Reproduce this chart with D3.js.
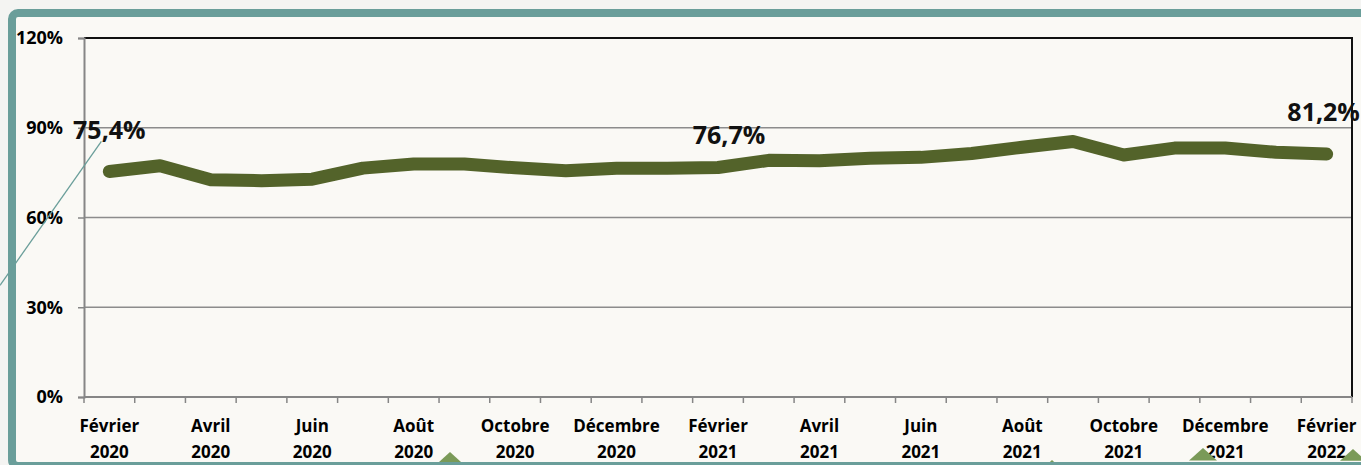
<!DOCTYPE html>
<html>
<head>
<meta charset="utf-8">
<script src="https://cdn.jsdelivr.net/npm/d3@7"></script>
<style>
  html, body { margin: 0; padding: 0; background: #f4f4f2; }
  svg { display: block; font-family: "Open Sans", "Noto Sans", sans-serif; }
</style>
</head>
<body>
<div id="chart"></div>
<script>
// data
var months = ["2020-02", "2020-03", "2020-04", "2020-05", "2020-06", "2020-07", "2020-08",
    "2020-09", "2020-10", "2020-11", "2020-12", "2021-01", "2021-02", "2021-03", "2021-04",
    "2021-05", "2021-06", "2021-07", "2021-08", "2021-09", "2021-10", "2021-11", "2021-12",
    "2022-01", "2022-02"];
var rates = [0.754, 0.773, 0.726, 0.723, 0.728, 0.765, 0.779, 0.779, 0.766, 0.756, 0.765,
    0.765, 0.767, 0.791, 0.790, 0.798, 0.801, 0.814, 0.835, 0.854, 0.809, 0.832, 0.832,
    0.818, 0.812];
var monthNames = ["Février", "Avril", "Juin", "Août", "Octobre", "Décembre", "Février",
    "Avril", "Juin", "Août", "Octobre", "Décembre", "Février"];
var yearNames = ["2020", "2020", "2020", "2020", "2020", "2020", "2021", "2021", "2021",
    "2021", "2021", "2021", "2022"];
var yTicks = [0, 0.3, 0.6, 0.9, 1.2];
var labelled = [0, 12, 24];

var svgWidth = 1361;
var svgHeight = 465;

var plot = { left: 84, right: 1352, top: 38, bottom: 397 };

var svg = d3.select("#chart").append("svg")
    .attr("width", svgWidth)
    .attr("height", svgHeight);

// frame
svg.append("rect")
    .attr("x", 0).attr("y", 0)
    .attr("width", svgWidth).attr("height", svgHeight)
    .attr("fill", "#f4f4f2");
svg.append("rect")
    .attr("x", 12).attr("y", 13)
    .attr("width", svgWidth + 20).attr("height", svgHeight - 13 + 1)
    .attr("rx", 6)
    .attr("fill", "#faf9f5")
    .attr("stroke", "#6a9e9a")
    .attr("stroke-width", 8);

var x = d3.scaleBand()
    .domain(months)
    .range([plot.left, plot.right]);

var y = d3.scaleLinear()
    .domain([0, 1.2])
    .range([plot.bottom, plot.top]);

var frFormat = d3.formatLocale({ decimal: ",", thousands: " ", grouping: [3], currency: ["", " €"] });
var pct0 = frFormat.format(".0%");
var pct1 = frFormat.format(".1%");

// gridlines
svg.append("g")
    .selectAll("line")
    .data(yTicks.slice(1, 4))
    .enter()
    .append("line")
    .attr("x1", plot.left).attr("x2", plot.right)
    .attr("y1", d => y(d)).attr("y2", d => y(d))
    .attr("stroke", "#8c8c8c")
    .attr("stroke-width", 1.5);

// plot border top/right
svg.append("path")
    .attr("d", `M${plot.left},${y(1.2)}H${plot.right}V${plot.bottom}`)
    .attr("fill", "none")
    .attr("stroke", "#111")
    .attr("stroke-width", 2);

// y axis
var leftAxis = d3.axisLeft(y)
    .tickValues(yTicks)
    .tickSize(6)
    .tickPadding(15)
    .tickFormat(pct0);

var yAxis = svg.append("g")
    .attr("transform", `translate(${plot.left}, 0)`)
    .call(leftAxis);
yAxis.select(".domain").attr("stroke", "#868686").attr("stroke-width", 2);
yAxis.selectAll(".tick line").attr("stroke", "#868686").attr("stroke-width", 1.5);
yAxis.selectAll(".tick text")
    .attr("font-family", "Open Sans, sans-serif")
    .attr("font-size", 18)
    .attr("font-weight", 700)
    .attr("fill", "#000");

// x axis line and ticks at category boundaries
svg.append("line")
    .attr("x1", plot.left).attr("x2", plot.right)
    .attr("y1", plot.bottom).attr("y2", plot.bottom)
    .attr("stroke", "#868686")
    .attr("stroke-width", 2);

var bounds = months.map(d => x(d)).concat([x(months[months.length - 1]) + x.bandwidth()]);
svg.append("g")
    .selectAll("line")
    .data(bounds)
    .enter()
    .append("line")
    .attr("x1", d => d).attr("x2", d => d)
    .attr("y1", plot.bottom).attr("y2", plot.bottom + 6)
    .attr("stroke", "#868686")
    .attr("stroke-width", 1.5);

// x labels: every other month, two lines
var xLabels = svg.append("g")
    .selectAll("text")
    .data(monthNames)
    .enter()
    .append("text")
    .attr("text-anchor", "middle")
    .attr("font-size", 17)
    .attr("font-weight", 700)
    .attr("fill", "#000");
xLabels.append("tspan")
    .attr("x", (d, i) => x(months[i * 2]) + x.bandwidth() / 2)
    .attr("y", 432)
    .text(d => d);
xLabels.append("tspan")
    .attr("x", (d, i) => x(months[i * 2]) + x.bandwidth() / 2)
    .attr("y", 458)
    .text((d, i) => yearNames[i]);

// line
var line = d3.line()
    .x((d, i) => x(months[i]) + x.bandwidth() / 2)
    .y(d => y(d));

svg.append("path")
    .datum(rates)
    .attr("d", line)
    .attr("fill", "none")
    .attr("stroke", "#53632a")
    .attr("stroke-width", 13)
    .attr("stroke-linejoin", "round")
    .attr("stroke-linecap", "round");

// data labels
var labelShift = { 0: [0, -32], 12: [11, -24], 24: [-3, -33] };

svg.append("line")
    .attr("x1", x(months[0]) + x.bandwidth() / 2 - 8)
    .attr("y1", y(rates[0]) - 30)
    .attr("x2", 0)
    .attr("y2", y(rates[0]) - 30 + 1.42 * (x(months[0]) + x.bandwidth() / 2 - 8))
    .attr("stroke", "#6a9e9a")
    .attr("stroke-width", 1.3);

svg.append("g")
    .selectAll("text")
    .data(labelled)
    .enter()
    .append("text")
    .attr("x", i => x(months[i]) + x.bandwidth() / 2 + labelShift[i][0])
    .attr("y", i => y(rates[i]) + labelShift[i][1])
    .attr("text-anchor", "middle")
    .attr("font-size", 25)
    .attr("font-weight", 700)
    .attr("fill", "#111")
    .text(i => pct1(rates[i]));

// decorations peeking under the frame
var peaks = [[450, 452, 11], [1052, 460, 3], [1203, 448, 14], [1353, 449, 13]];
svg.append("g")
    .selectAll("path")
    .data(peaks)
    .enter()
    .append("path")
    .attr("d", d => `M${d[0]},${d[1]}L${d[0] + d[2]},${d[1] + d[2] * 0.9}L${d[0] - d[2]},${d[1] + d[2] * 0.9}Z`)
    .attr("fill", "#7a9a58");
svg.append("line")
    .attr("x1", 12).attr("x2", svgWidth)
    .attr("y1", 463.5).attr("y2", 463.5)
    .attr("stroke", "#6a9e9a")
    .attr("stroke-width", 3);
</script>
</body>
</html>
